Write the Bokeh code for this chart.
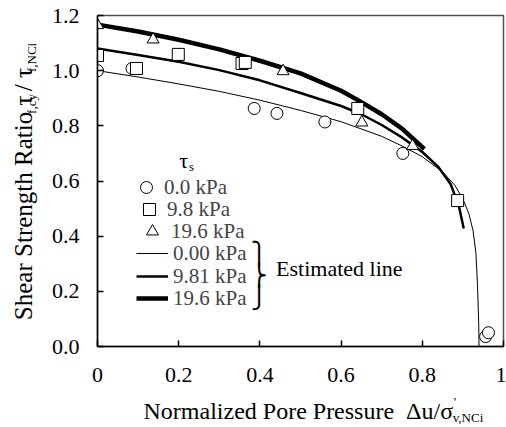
import math
from bokeh.plotting import figure
from bokeh.layouts import row, column
from bokeh.models import (Label, Legend, LegendItem, FixedTicker, PrintfTickFormatter,
                          CustomJSTickFormatter, Range1d)
from bokeh.embed import file_html
from bokeh.resources import INLINE

# ---------------- data ----------------
obs_x_00 = [0.0, 0.085, 0.386, 0.442, 0.56, 0.752, 0.956, 0.963]
obs_y_00 = [1.0, 1.008, 0.863, 0.845, 0.814, 0.700, 0.036, 0.050]

obs_x_98 = [0.0, 0.096, 0.199, 0.356, 0.364, 0.641, 0.887]
obs_y_98 = [1.055, 1.008, 1.059, 1.026, 1.030, 0.863, 0.529]

obs_x_196 = [0.0, 0.137, 0.457, 0.651, 0.776]
obs_y_196 = [1.165, 1.113, 0.998, 0.812, 0.727]

est_x_000 = [0.0, 0.1, 0.2, 0.3, 0.4, 0.5, 0.6, 0.7, 0.75, 0.8, 0.85, 0.88, 0.9,
             0.915, 0.925, 0.932, 0.936, 0.939, 0.94]
est_y_000 = [1.0, 0.977, 0.952, 0.925, 0.893, 0.856, 0.815, 0.762, 0.727, 0.688,
             0.633, 0.585, 0.535, 0.48, 0.42, 0.34, 0.22, 0.08, -0.03]

est_x_981 = [0.0, 0.1, 0.2, 0.3, 0.4, 0.5, 0.6, 0.65, 0.7, 0.75, 0.8, 0.84, 0.87, 0.89, 0.902]
est_y_981 = [1.08, 1.057, 1.032, 1.002, 0.965, 0.919, 0.872, 0.842, 0.803, 0.758,
             0.705, 0.65, 0.588, 0.51, 0.428]

est_x_196 = [0.0, 0.1, 0.2, 0.3, 0.4, 0.5, 0.6, 0.65, 0.7, 0.75, 0.805]
est_y_196 = [1.167, 1.142, 1.112, 1.077, 1.036, 0.99, 0.927, 0.886, 0.842, 0.79, 0.716]

x_ticks = [0, 0.2, 0.4, 0.6, 0.8, 1.0]
y_ticks = [0.0, 0.2, 0.4, 0.6, 0.8, 1.0, 1.2]

obs_labels = ["0.0 kPa", "9.8 kPa", "19.6 kPa"]
est_labels = ["0.00 kPa", "9.81 kPa", "19.6 kPa"]

# ---------------- layout ----------------
FONT = "Liberation Serif"
TOTAL_W, TOTAL_H = 506, 427
YT_W = 48                      # y-title strip
MAIN_H = 391                   # main figure height
XT_H = TOTAL_H - MAIN_H        # x-title strip
MAIN_W = TOTAL_W - YT_W
FL_PAGE = 96                   # frame left on page
BL, BR, BT = FL_PAGE - YT_W, 3, 15
FW = MAIN_W - BL - BR
FH = 331
BB = MAIN_H - BT - FH
FB_PAGE = BT + FH

def dx(px):
    return (px - FL_PAGE) / FW * 1.0

def dy(py):
    return (FB_PAGE - py) / FH * 1.2

p = figure(width=MAIN_W, height=MAIN_H, output_backend="svg", toolbar_location=None,
           x_range=Range1d(0, 1), y_range=Range1d(0, 1.2),
           min_border_left=BL, min_border_right=BR, min_border_top=BT, min_border_bottom=BB)
p.background_fill_color = "white"
p.border_fill_color = "white"
p.grid.visible = False
p.outline_line_color = "#505050"
p.outline_line_width = 1.5

for ax in (p.xaxis[0], p.yaxis[0]):
    ax.axis_line_color = "black"
    ax.axis_line_width = 1.5
    ax.major_tick_line_color = "black"
    ax.major_tick_line_width = 1.5
    ax.major_tick_in = 6
    ax.major_tick_out = 0
    ax.minor_tick_line_color = None
    ax.major_label_text_font = FONT
    ax.major_label_text_font_size = "22px"
    ax.major_label_text_color = "black"

p.xaxis.ticker = FixedTicker(ticks=x_ticks)
p.yaxis.ticker = FixedTicker(ticks=y_ticks)
p.xaxis.formatter = CustomJSTickFormatter(code="return String(Math.round(tick*10)/10);")
p.yaxis.formatter = PrintfTickFormatter(format="%.1f")
p.xaxis.major_label_standoff = 21
p.yaxis.major_label_standoff = 18

# ---------------- estimated lines ----------------
l0 = p.line(est_x_000, est_y_000, line_color="black", line_width=1)
l1 = p.line(est_x_981, est_y_981, line_color="black", line_width=2.5)
l2 = p.line(est_x_196, est_y_196, line_color="black", line_width=4.5)

# ---------------- observed points ----------------
mk = dict(size=12, fill_color="white", line_color="black", line_width=1)
s0 = p.scatter(obs_x_00, obs_y_00, marker="circle", **mk)
s1 = p.scatter(obs_x_98, obs_y_98, marker="square", **mk)
s2 = p.scatter(obs_x_196, obs_y_196, marker="triangle", **mk)

# ---------------- legend (one row per Legend for exact placement) ----------------
# (label, renderer, row centre y on page, left x on page, glyph width, standoff)
rows = [(obs_labels[0], s0, 187, 130, 30, 3),
        (obs_labels[1], s1, 209, 133, 30, 3),
        (obs_labels[2], s2, 231, 136, 30, 4),
        (est_labels[0], l0, 253, 135, 32, 5),
        (est_labels[1], l1, 276, 135, 32, 5),
        (est_labels[2], l2, 298, 135, 32, 5)]
for text, rend, cy, lx, gw, so in rows:
    lg = Legend(items=[LegendItem(label=text, renderers=[rend])],
                location=(lx - FL_PAGE, FB_PAGE - (cy + 15)),
                glyph_width=gw, glyph_height=30, label_height=20, spacing=0,
                padding=0, margin=0, label_standoff=so,
                label_text_font=FONT, label_text_font_size="21px",
                label_text_line_height=1.0, label_text_baseline="middle",
                border_line_color=None, background_fill_alpha=0)
    p.add_layout(lg)

# ---------------- text helpers ----------------
WID = {' ': 250, '\u00a0': 250, "'": 180, ',': 250, '.': 250, '/': 278,
       'S': 556, 'h': 500, 'e': 444, 'a': 444, 'r': 333, 't': 278, 'n': 500, 'g': 500,
       'R': 667, 'i': 278, 'o': 500, 'τ': 440, 'f': 333, 'c': 444, 'y': 500, 'N': 722,
       'C': 667, 'l': 278, 'z': 444, 'd': 500, 'P': 556, 's': 389, 'u': 500, 'Δ': 612,
       'σ': 550, 'v': 500, 'm': 778, 'k': 500}

def tw(s, size):
    return sum(WID.get(ch, 500) for ch in s) / 1000.0 * size

def lab_main(text, px, py, size, align="left", baseline="middle", font=FONT):
    p.add_layout(Label(x=dx(px), y=dy(py), text=text,
                       text_font=font, text_font_size=f"{size}px", text_color="black",
                       text_align=align, text_baseline=baseline))

MAIN, SUB = 24, 13

# legend title tau_s
lab_main("τ", 178, 160, 22)
lab_main("s", 178 + tw("τ", 22), 166, SUB)

# brace (stacked bracket pieces) + "Estimated line"
for ch, cy in (("\u23ab", 253), ("\u23ac", 275), ("\u23ad", 297)):
    lab_main(ch, 250, cy, 22, font="DejaVu Sans")
lab_main("Estimated line", 275, 268, 22)

# ---------------- title strips (pixel coordinates) ----------------
def strip(w, h):
    f = figure(width=w, height=h, output_backend="svg", toolbar_location=None,
               x_range=Range1d(0, w), y_range=Range1d(h, 0),
               x_axis_location=None, y_axis_location=None, min_border=0)
    f.outline_line_color = None
    f.grid.visible = False
    f.background_fill_color = "white"
    f.border_fill_color = "white"
    return f

def lab(fig, text, x, y, size, angle=0.0, align="left"):
    fig.add_layout(Label(x=x, y=y, text=text, angle=angle,
                         text_font=FONT, text_font_size=f"{size}px", text_color="black",
                         text_align=align, text_baseline="middle"))

# y-axis title (rotated, reading upward); each piece placed by its centre
yt = strip(YT_W, MAIN_H)
ang = math.pi / 2
YMAIN = 25
mid_main, mid_sub = 23, 31
yy = 340
pieces = [("Shear Strength Ratio τ", YMAIN, mid_main), ("f,cy", SUB, mid_sub),
          ("\u00a0/ τ", YMAIN, mid_main), ("f,NCi", SUB, mid_sub)]
for txt, sz, mx in pieces:
    w = tw(txt, sz)
    lab(yt, txt, mx, yy - w / 2, sz, angle=ang, align="center")
    yy -= w

# x-axis title
xt = strip(TOTAL_W, XT_H)
xt_main = "Normalized Pore Pressure\u00a0 Δu/σ"
x0 = 143
lab(xt, xt_main, x0, 410 - MAIN_H, MAIN)
wx = tw(xt_main, MAIN)
lab(xt, "'", x0 + wx + 1, 401 - MAIN_H, SUB)
lab(xt, "v,NCi", x0 + wx, 417 - MAIN_H, SUB)

layout = column(row(yt, p, spacing=0), xt, spacing=0)
open("out.html", "w").write(file_html(layout, INLINE))
